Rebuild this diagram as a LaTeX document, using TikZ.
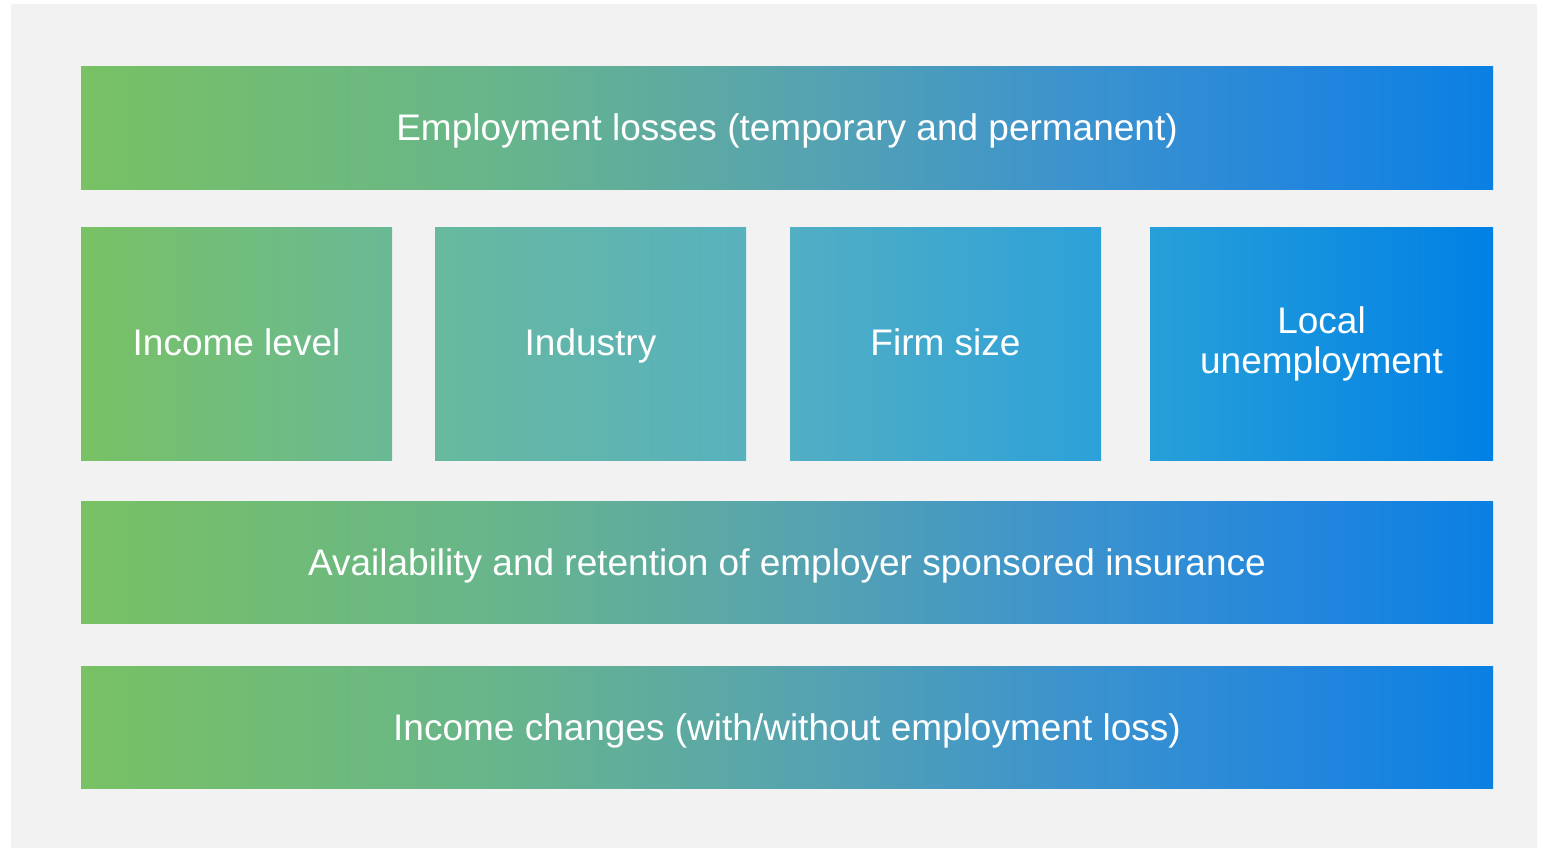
\documentclass[tikz,border=0pt]{standalone}
\usepackage{fontspec}
\setmainfont{Liberation Sans}
\usetikzlibrary{positioning}

\definecolor{grn}{RGB}{120,193,100}
\definecolor{grnteal}{RGB}{103,181,140}
\definecolor{tealmid}{RGB}{88,164,174}
\definecolor{bluemid}{RGB}{60,147,205}
\definecolor{bluelt}{RGB}{35,134,221}
\definecolor{blu}{RGB}{10,128,227}
\definecolor{panel}{RGB}{242,242,242}

% green to blue, left to right (the path covers 25bp--75bp)
\pgfdeclarehorizontalshading{greenblue}{100bp}{
    color(0bp)=(grn); color(25bp)=(grn); color(40bp)=(grnteal);
    color(50bp)=(tealmid); color(60bp)=(bluemid); color(68.5bp)=(bluelt);
    color(75bp)=(blu); color(100bp)=(blu)}

\begin{document}
\begin{tikzpicture}[x=1pt,y=-1pt]  % one unit = one pixel of the layout

    % Define some common styles
    \tikzset{
        box/.style={rectangle, inner sep=0pt, text=white, align=center,
            font=\fontsize{37}{40}\selectfont},
        band/.style={box, minimum width=1412pt, minimum height=122pt,
            shading=greenblue, text height=26pt, text depth=0pt},
        factor/.style={box, minimum height=233pt, text height=24pt, text depth=0pt}
    }

    % Page and light grey panel
    \useasboundingbox (0,0) rectangle (1547,848);
    \fill[white] (0,0) rectangle (1547,848);
    \fill[panel] (11,4) rectangle (1537,848);

    % Full width bands
    \node[band] (losses) at (787,128) {Employment losses (temporary and permanent)};
    \node[band] (esi) at (787,562.5) {Availability and retention of employer sponsored insurance};
    \node[band] (income) at (787,727) {Income changes (with/without employment loss)};

    % Row of four factors
    \node[factor, minimum width=311pt, left color=grn, right color={rgb,255:red,106;green,185;blue,150}]
        (level) at (236.5,343.5) {Income level};
    \node[factor, minimum width=311pt, left color={rgb,255:red,104;green,185;blue,158}, right color={rgb,255:red,88;green,177;blue,190}]
        (industry) at (590.5,343.5) {Industry};
    \node[factor, minimum width=311pt, left color={rgb,255:red,82;green,174;blue,195}, right color={rgb,255:red,44;green,161;blue,217}]
        (firm) at (945.5,343.5) {Firm size};
    \node[box, minimum height=233pt, minimum width=343pt,
        left color={rgb,255:red,39;green,160;blue,217}, right color={rgb,255:red,0;green,128;blue,229}]
        (local) at (1321.5,343.5) {Local\\unemployment};

\end{tikzpicture}
\end{document}
